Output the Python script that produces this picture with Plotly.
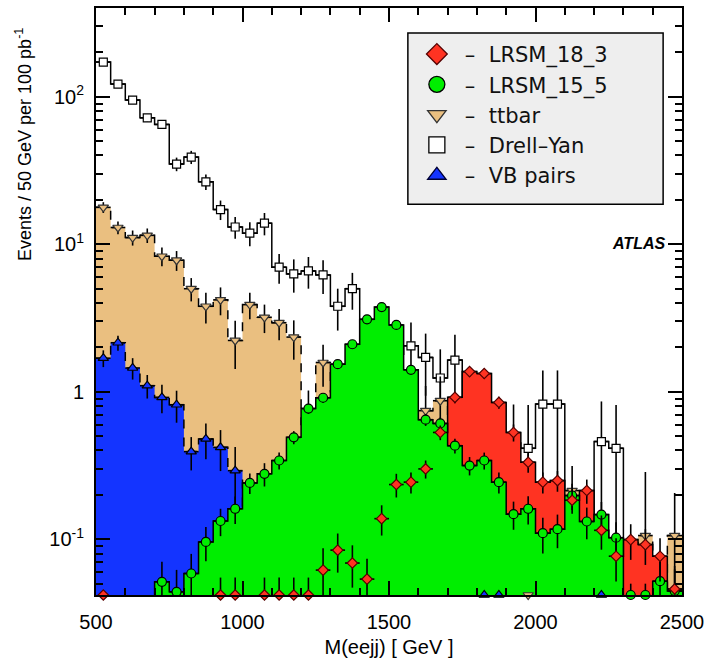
import numpy as np
import plotly.graph_objects as go

# ---------------- data (50 GeV bins, 500-2500 GeV) ----------------
bin_lo = list(range(500, 2500, 50))
bin_width = 50

drell_yan = [172, 122, 95, 72, 65, 35, 39, 26.5, 17.2, 13.1, 11.9, 13.9, 7.0, 6.3, 6.6, 6.2,
             3.8, 5.0, 2.0, 2.2, 1.8, 2.05, 1.71, 1.24, 1.64, 0.6, 0.7, 0.5, 0.45, 0.414,
             0.826, 0.826, 0.12, 0.1, 0.46, 0.414, 0, 0, 0, 0]
drell_yan_err = [7, 6, 5, 4.5, 4.5, 3.7, 4, 3.2, 2.6, 2.2, 2.2, 2.4, 1.6, 1.6, 1.6, 1.6,
                 1.2, 1.4, 0.9, 0.9, 0.9, 0.9, 0.77, 0.7, 0.8, 0.45, 0.5, 0.3, 0.37, 0.4,
                 0.57, 0.57, 0.08, 0.08, 0.4, 0.4, 0, 0, 0, 0]

ttbar = [17.8, 13.0, 11.1, 11.5, 8.3, 7.8, 5.0, 3.8, 4.2, 2.23, 3.9, 3.2, 2.94, 2.35, 0.6, 1.58,
         1.0, 0.9, 0.8, 0.7, 0.8, 0.6, 0.745, 0.87, 0.4, 0.3, 0.25, 0.2, 0.12, 0.005,
         0.1, 0.1, 0.214, 0.1, 0.06, 0.05, 0.05, 0.106, 0, 0.106]
ttbar_err = [1.5, 1.3, 1.3, 1.3, 1.2, 1.2, 0.9, 0.9, 0.9, 0.8, 0.8, 0.7, 0.7, 0.7, 0.42, 0.5,
             0.4, 0.4, 0.4, 0.4, 0.4, 0.4, 0.35, 0.4, 0.3, 0.25, 0.2, 0.2, 0.12, 0.03,
             0.1, 0.1, 0.1, 0.08, 0.05, 0.04, 0.04, 0.18, 0, 0.1]

vb_pairs = [1.69, 2.15, 1.45, 1.10, 0.916, 0.817, 0.393, 0.479, 0.42, 0.292,
            0, 0, 0, 0, 0, 0, 0, 0, 0, 0, 0, 0, 0, 0, 0, 0, 0.005, 0.005, 0, 0,
            0, 0, 0, 0, 0.005, 0, 0, 0, 0, 0]
vb_pairs_err = [0.22, 0.25, 0.24, 0.2, 0.2, 0.2, 0.1, 0.13, 0.13, 0.13,
                0, 0, 0, 0, 0, 0, 0, 0, 0, 0, 0, 0, 0, 0, 0, 0, 0.004, 0.004, 0, 0,
                0, 0, 0, 0, 0.004, 0, 0, 0, 0, 0]

lrsm_18_3 = [0.005, 0, 0, 0, 0, 0, 0, 0, 0.01, 0.01, 0, 0.01, 0.01, 0.01, 0.01, 0.0618,
             0.0844, 0.069, 0.0537, 0.138, 0.235, 0.244, 0.30, 0.53, 0.917, 1.37, 1.33, 0.847,
             0.53, 0.333, 0.244, 0.25, 0.184, 0.214, 0.115, 0.0768, 0.0995, 0.092, 0.0768, 0.046]
lrsm_18_3_err = [0.005, 0, 0, 0, 0, 0, 0, 0, 0.045, 0.045, 0, 0.045, 0.045, 0.045, 0.045, 0.025,
                 0.025, 0.022, 0.02, 0.032, 0.043, 0.04, 0.042, 0.06, 0.08, 0.1, 0.1, 0.08,
                 0.07, 0.05, 0.04, 0.04, 0.035, 0.04, 0.03, 0.025, 0.027, 0.025, 0.025, 0.02]

lrsm_15_5 = [0, 0, 0, 0, 0.0515, 0.044, 0.0586, 0.096, 0.133, 0.161, 0.241, 0.278, 0.342, 0.491,
             0.77, 0.911, 1.54, 2.10, 3.10, 3.75, 2.84, 1.41, 0.647, 0.61, 0.431, 0.316, 0.342,
             0.244, 0.148, 0.161, 0.110, 0.117, 0.198, 0.132, 0.147, 0.1026, 0.01, 0.01, 0.052, 0.0446]
lrsm_15_5_err = [0, 0, 0, 0, 0.019, 0.018, 0.021, 0.025, 0.028, 0.034, 0.038, 0.05, 0.045, 0.05,
                 0.06, 0.07, 0.09, 0.1, 0.12, 0.13, 0.12, 0.09, 0.06, 0.06, 0.05, 0.045, 0.045,
                 0.04, 0.032, 0.035, 0.03, 0.03, 0.04, 0.032, 0.032, 0.028, 0.04, 0.04, 0.02, 0.018]

x_tickvals = [500, 1000, 1500, 2000, 2500]
y_tickvals = [0.1, 1, 10, 100]
y_ticktext = ["10<sup>-1</sup>", "1", "10<sup>1</sup>", "10<sup>2</sup>"]

# ---------------- styling ----------------
YMIN, YMAX = 0.0419, 400.0
FLOOR = 1e-4
C_TT, C_VB, C_GR, C_RD = "#EABF80", "#1434FF", "#00EE00", "#FF3322"
FONT = "Liberation Sans, Arial, sans-serif"

edges = np.array(bin_lo + [bin_lo[-1] + bin_width], dtype=float)
centers = np.array(bin_lo, dtype=float) + bin_width / 2.0

fig = go.Figure()


def add_fill(vals, fillcolor, dash):
    v = np.asarray(vals, float)
    v = np.where(v > 0, v, FLOOR)
    fig.add_trace(go.Scatter(
        x=edges, y=np.append(v, v[-1]), mode="lines", line_shape="hv",
        line=dict(color="black", width=1.5, dash=dash),
        fill="tozeroy", fillcolor=fillcolor, showlegend=False, hoverinfo="skip"))


def add_points(vals, errs, symbol, color, size, lcolor="black"):
    v = np.asarray(vals, float)
    e = np.asarray(errs, float)
    ok = v >= YMIN
    ys = [float(a) if m else None for a, m in zip(v, ok)]
    es = [float(a) if m else None for a, m in zip(e, ok)]
    fig.add_trace(go.Scatter(
        x=centers, y=ys, mode="markers",
        marker=dict(symbol=symbol, size=size, color=color, line=dict(color=lcolor, width=1.2)),
        error_y=dict(type="data", array=es, color="black", thickness=1.6, width=0),
        error_x=dict(type="constant", value=bin_width / 2.0, color="black", thickness=1.6, width=0),
        showlegend=False, hoverinfo="skip"))


def add_bottom(vals, errs, symbol, color, size, lcolor="black"):
    # entries below the frame are drawn on the frame edge
    v = np.asarray(vals, float)
    e = np.asarray(errs, float)
    low = (v > 0) & (v < YMIN)
    if not low.any():
        return
    xs = centers[low]
    up = np.maximum(v[low] + e[low] - YMIN, 0.0)
    fig.add_trace(go.Scatter(
        x=xs, y=[YMIN] * int(low.sum()), mode="markers", cliponaxis=False,
        marker=dict(symbol=symbol, size=size, color=color, line=dict(color=lcolor, width=1.2)),
        error_y=dict(type="data", symmetric=False, array=up, arrayminus=[0] * int(low.sum()),
                     color="black", thickness=1.6, width=0),
        showlegend=False, hoverinfo="skip"))


# draw order: DY, ttbar, VB, LRSM_18_3 fill, LRSM_15_5, LRSM_18_3 points
add_fill(drell_yan, "white", "solid")
add_points(drell_yan, drell_yan_err, "square", "white", 8)
add_fill(ttbar, C_TT, "dash")
add_points(ttbar, ttbar_err, "triangle-down", C_TT, 9, "#333333")
add_fill(vb_pairs, C_VB, "dash")
add_points(vb_pairs, vb_pairs_err, "triangle-up", C_VB, 9)
add_fill(lrsm_18_3, C_RD, "solid")
add_fill(lrsm_15_5, C_GR, "solid")
add_points(lrsm_15_5, lrsm_15_5_err, "circle", C_GR, 9)
add_points(lrsm_18_3, lrsm_18_3_err, "diamond", C_RD, 8, "#550000")
add_bottom(ttbar, ttbar_err, "triangle-down", C_TT, 9, "#333333")
add_bottom(vb_pairs, vb_pairs_err, "triangle-up", C_VB, 9)
add_bottom(lrsm_15_5, lrsm_15_5_err, "circle", C_GR, 9)
add_bottom(lrsm_18_3, lrsm_18_3_err, "diamond", C_RD, 8, "#550000")

# legend entries
legend_items = [
    ("–  LRSM_18_3", "diamond", C_RD, "#550000"),
    ("–  LRSM_15_5", "circle", C_GR, "black"),
    ("–  ttbar", "triangle-down", C_TT, "#333333"),
    ("–  Drell–Yan", "square", "white", "black"),
    ("–  VB pairs", "triangle-up", C_VB, "#000033"),
]
for rank, (name, sym, col, lc) in enumerate(legend_items):
    fig.add_trace(go.Scatter(
        x=[None], y=[None], mode="markers", name=name, legendrank=rank + 1,
        marker=dict(symbol=sym, size=16, color=col, line=dict(color=lc, width=1.3))))

W, H = 710, 665
L, R, T, B = 96, 24, 6, 70
pw, ph = W - L - R, H - T - B


def px_x(x):
    return (x - L) / pw


def px_y(y):
    return 1 - (y - T) / ph


minor_y = [m * 10.0 ** d for d in (-2, -1, 0, 1, 2) for m in range(2, 10)]
minor_y = [v for v in minor_y if YMIN <= v <= YMAX]

fig.update_layout(
    width=W, height=H, margin=dict(l=L, r=R, t=T, b=B),
    paper_bgcolor="white", plot_bgcolor="white",
    font=dict(family=FONT, size=20, color="black"),
    xaxis=dict(range=[500, 2500], tickmode="array", tickvals=x_tickvals,
               ticks="inside", ticklen=14, tickwidth=1.5, tickcolor="black",
               showline=True, linewidth=2, linecolor="black", mirror="allticks",
               showgrid=False, zeroline=False, ticklabelstandoff=8,
               tickfont=dict(family=FONT, size=20),
               minor=dict(ticks="inside", ticklen=7, tickwidth=1.5, tickcolor="black",
                          tick0=500, dtick=100, showgrid=False),
               title=dict(text="M(eejj) [ GeV ]", font=dict(family=FONT, size=20), standoff=8)),
    yaxis=dict(type="log", range=[np.log10(YMIN), np.log10(YMAX)], tickmode="array",
               tickvals=y_tickvals, ticktext=y_ticktext,
               ticks="inside", ticklen=14, tickwidth=1.5, tickcolor="black",
               showline=True, linewidth=2, linecolor="black", mirror="allticks",
               showgrid=False, zeroline=False, ticklabelstandoff=6,
               tickfont=dict(family=FONT, size=20),
               minor=dict(tickmode="array", tickvals=minor_y, ticks="inside", ticklen=7,
                          tickwidth=1.5, tickcolor="black", showgrid=False)),
    legend=dict(x=px_x(411), y=px_y(32), xanchor="left", yanchor="top",
                bgcolor="rgba(0,0,0,0)", borderwidth=0,
                font=dict(family="DejaVu Sans, sans-serif", size=21, color="#111111"),
                itemwidth=46, tracegroupgap=0),
    shapes=[dict(type="rect", xref="paper", yref="paper", layer="above",
                 x0=px_x(410), x1=px_x(667), y0=px_y(203), y1=px_y(31),
                 fillcolor="#EEEEEE", line=dict(color="black", width=1.5))],
    annotations=[
        dict(text="Events / 50 GeV per 100 pb<sup>-1</sup>", textangle=-90,
             xref="paper", yref="paper", x=px_x(23), y=px_y(143),
             xanchor="center", yanchor="middle", showarrow=False,
             font=dict(family=FONT, size=18)),
        dict(text="<b><i>ATLAS</i></b>", xref="paper", yref="paper",
             x=px_x(671), y=px_y(242), xanchor="right", yanchor="middle",
             showarrow=False, font=dict(family=FONT, size=16)),
    ],
)

fig.write_html("out.html")
